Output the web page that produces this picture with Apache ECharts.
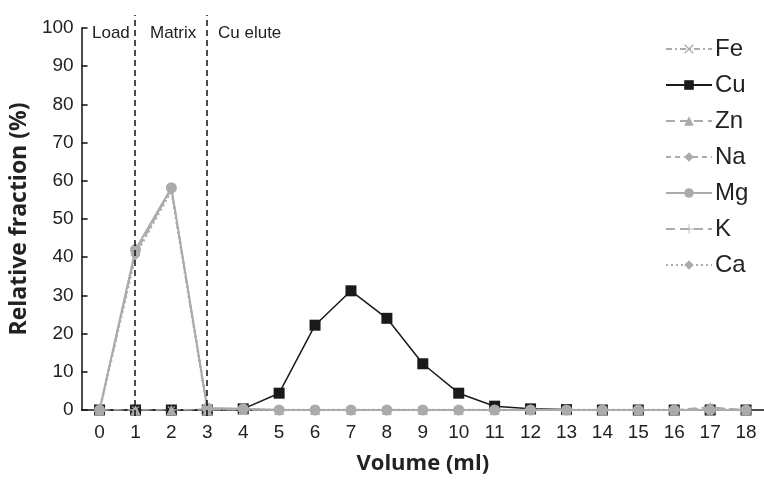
<!DOCTYPE html>
<html>
<head>
<meta charset="utf-8">
<script src="https://cdn.jsdelivr.net/npm/echarts@6/dist/echarts.min.js"></script>
<style>
  html, body { margin: 0; padding: 0; background: #fff; }
  #chart { width: 764px; height: 480px; }
</style>
</head>
<body>
<div id="chart"></div>
<script>
// fractions
const volume = ['0', '1', '2', '3', '4', '5', '6', '7', '8', '9', '10', '11', '12', '13', '14', '15', '16', '17', '18'];
const fe = [0, 0, 0, 0.3, 0.2, 0, 0.1, 0.1, 0, 0.1, 0, 0, 0, 0, 0, 0, 0, 0.2, 0];
const cu = [0, 0, 0, 0, 0.3, 4.4, 22.2, 31.2, 24, 12.1, 4.4, 1.0, 0.3, 0.1, 0, 0, 0, 0, 0];
const zn = [0, 0, 0, 0, 0.1, 0, 0, 0, 0, 0, 0, 0, 0, 0, 0, 0, 0, 0.8, 0];
const na = [0, 41, 58, 0.3, 0.2, 0, 0, 0, 0, 0, 0, 0, 0, 0, 0, 0, 0, 0.1, 0];
const mg = [0, 42, 58.2, 0.5, 0.3, 0, 0, 0, 0, 0, 0, 0, 0, 0, 0, 0, 0, 0, 0];
const k = [0, 41, 57.8, 0.4, 0.2, 0, 0, 0, 0, 0, 0, 0, 0, 0, 0, 0, 0, 0.5, 0];
const ca = [0, 40.5, 57.5, 0.3, 0.2, 0, 0, 0, 0, 0, 0, 0, 0, 0, 0, 0, 0, 0, 0];
const phaseBounds = ['1', '3'];
const phaseLabels = ['Load', 'Matrix', 'Cu elute'];

const gray = '#ababab';
const xPath = 'path://M1,0L5,4L9,0L10,1L6,5L10,9L9,10L5,6L1,10L0,9L4,5L0,1Z';
const plusPath = 'path://M4.6,0H5.4V4.6H10V5.4H5.4V10H4.6V5.4H0V4.6H4.6Z';

const chart = echarts.init(document.getElementById('chart'), null, { renderer: 'canvas' });

function graySeries(name, data, symbol, size, dash, width) {
  return {
    name,
    type: 'line',
    data,
    z: 3,
    symbol,
    symbolSize: size,
    color: gray,
    lineStyle: { color: gray, width: width || 1.5, type: dash },
    itemStyle: { color: gray },
    emphasis: { disabled: true }
  };
}

// the phase dividers rise a little above 100, so they sit on a taller hidden grid
const topExtra = 100 * (416 - 15) / (416 - 28);

const option = {
  animation: false,
  grid: [
    { left: 81, right: -4, top: 28, bottom: 64 },
    { left: 81, right: -4, top: 15, bottom: 64 }
  ],
  xAxis: [{
    type: 'category',
    data: volume,
    boundaryGap: true,
    name: 'Volume (ml)',
    nameLocation: 'middle',
    nameGap: 43,
    nameTextStyle: { fontFamily: 'Open Sans', fontWeight: 'bold', fontSize: 22, color: '#222' },
    axisLine: { lineStyle: { color: '#111', width: 1.5 } },
    axisTick: { show: false },
    axisLabel: { fontFamily: 'Liberation Sans', fontSize: 19, color: '#222', margin: 13, interval: 0 },
    splitLine: { show: false }
  }, {
    type: 'category',
    data: volume,
    gridIndex: 1,
    show: false
  }],
  yAxis: [{
    type: 'value',
    min: 0,
    max: 100,
    interval: 10,
    name: 'Relative fraction (%)',
    nameLocation: 'middle',
    nameGap: 43,
    nameTextStyle: { fontFamily: 'Open Sans', fontWeight: 'bold', fontSize: 23, color: '#222' },
    axisLine: { show: true, lineStyle: { color: '#111', width: 1.5 } },
    axisTick: { show: true, inside: true, length: 6, lineStyle: { color: '#111', width: 1.5 } },
    axisLabel: { fontFamily: 'Liberation Sans', fontSize: 19, color: '#222', margin: 8 },
    splitLine: { show: false }
  }, {
    type: 'value',
    gridIndex: 1,
    min: 0,
    max: topExtra,
    show: false
  }],
  legend: {
    orient: 'vertical',
    left: 660,
    top: 32,
    itemWidth: 46,
    itemHeight: 12,
    itemGap: 12,
    textStyle: { fontFamily: 'Liberation Sans', fontSize: 24, color: '#222', padding: [0, 0, 0, -2] },
    data: ['Fe', 'Cu', 'Zn', 'Na', 'Mg', 'K', 'Ca']
  },
  graphic: [
    { type: 'text', left: 92, top: 25, style: { text: phaseLabels[0], font: '17px "Liberation Sans"', fill: '#222' } },
    { type: 'text', left: 150, top: 25, style: { text: phaseLabels[1], font: '17px "Liberation Sans"', fill: '#222' } },
    { type: 'text', left: 218, top: 25, style: { text: phaseLabels[2], font: '17px "Liberation Sans"', fill: '#222' } }
  ],
  series: [
    graySeries('Fe', fe, xPath, 8, [6, 3, 2, 3], 1.2),
    {
      name: 'Cu',
      type: 'line',
      data: cu,
      z: 2,
      symbol: 'rect',
      symbolSize: 11,
      color: '#1a1a1a',
      lineStyle: { color: '#1a1a1a', width: 1.5 },
      itemStyle: { color: '#1a1a1a' },
      emphasis: { disabled: true }
    },
    graySeries('Zn', zn, 'triangle', 10, [9, 5], 1.5),
    graySeries('Na', na, 'diamond', 10, [5, 4], 1.5),
    graySeries('Mg', mg, 'circle', 11, 'solid', 2),
    graySeries('K', k, plusPath, 9, [9, 5], 1.5),
    graySeries('Ca', ca, 'diamond', 10, [2, 3], 2.5),
    {
      name: 'phases',
      type: 'line',
      xAxisIndex: 1,
      yAxisIndex: 1,
      data: [],
      z: 1,
      markLine: {
        silent: true,
        symbol: 'none',
        label: { show: false },
        lineStyle: { color: '#111', type: [6, 4], width: 1.5 },
        data: phaseBounds.map(function (b) {
          return [{ coord: [b, 0] }, { coord: [b, topExtra] }];
        })
      }
    }
  ]
};

chart.setOption(option);
</script>
</body>
</html>
